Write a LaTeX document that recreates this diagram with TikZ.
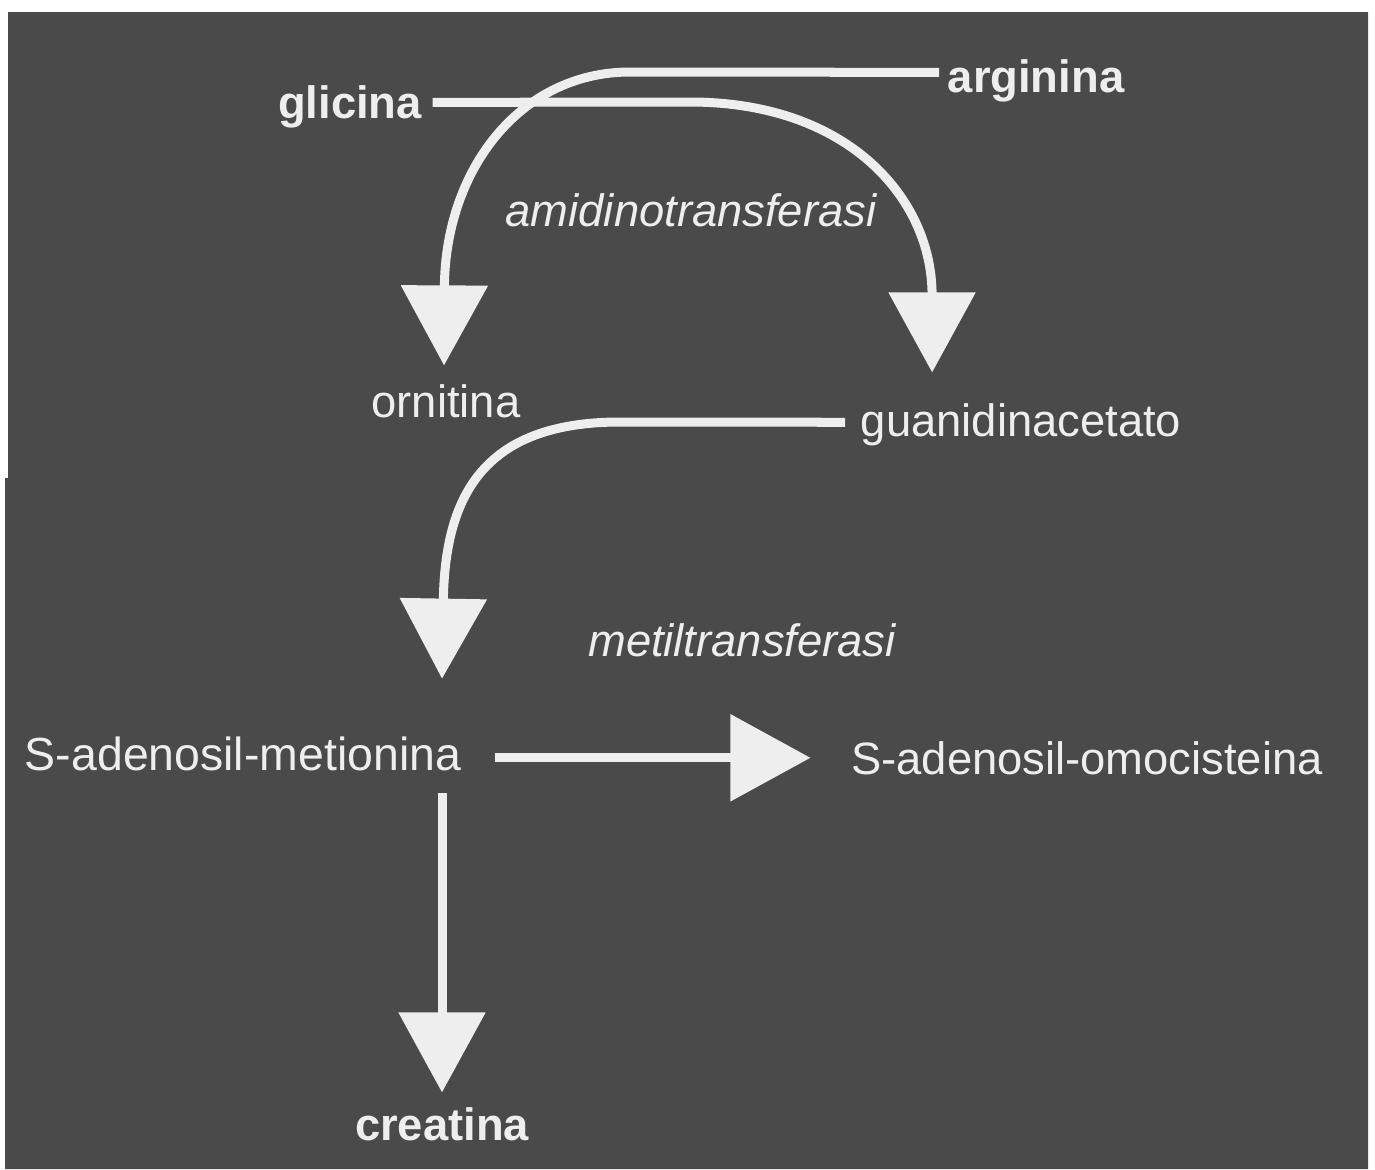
\documentclass[tikz,border=0pt]{standalone}
\usepackage{fontspec}
\setmainfont{Liberation Sans}
\usetikzlibrary{arrows.meta,calc}
\definecolor{panelgray}{RGB}{74,74,74}
\definecolor{inkwhite}{RGB}{238,238,238}
\tikzset{>={Triangle[width=0.85cm,length=0.8cm]}}
\tikzset{
  flow/.style={draw=inkwhite,line width=0.09cm,->},
  chem/.style={text=inkwhite,inner sep=0pt,anchor=base,font=\fontsize{12.9}{15}\selectfont},
  chembold/.style={chem,font=\fontsize{12.9}{15}\selectfont\bfseries},
  enzyme/.style={chem,font=\fontsize{12.9}{15}\selectfont\itshape}
}

\begin{document}
\begin{tikzpicture}[x=0.01cm,y=-0.01cm]
    \useasboundingbox (0,0) rectangle (1375,1169);
    \fill[white] (0,0) rectangle (1375,1169);
    \fill[panelgray] (8,12) -- (1368,12) -- (1368,1169) -- (5,1169)
      -- (5,478) -- (8,478) -- cycle;

    \node[chembold] (glicina) at (350,118) {glicina};
    \node[chembold] (arginina) at (1036,92) {arginina};
    \node[enzyme] (amidino) at (691,226) {amidinotransferasi};
    \node[chem] (ornitina) at (446,417) {ornitina};
    \node[chem] (guanidin) at (1021,436) {guanidinacetato};
    \node[enzyme] (metil) at (742,656) {metiltransferasi};
    \node[chem,font=\fontsize{13.2}{15}\selectfont] (sam) at (243,770) {S-adenosil-metionina};
    \node[chem] (sah) at (1087,774) {S-adenosil-omocisteina};
    \node[chembold] (creatina) at (442,1140) {creatina};

    \draw[flow] ([shift={(10,-4)}]glicina.east) -- (690,102)
      .. controls (850,102) and (932,200) .. ([shift={(72,-30)}]guanidin.north west);
    \draw[flow] ([shift={(-8,-8)}]arginina.west) -- (630,72)
      .. controls (520,72) and (445,170) .. ([shift={(-2,-18)}]ornitina.north);
    \draw[flow] ([shift={(-15,-2)}]guanidin.west) -- (620,422)
      .. controls (480,422) and (445,500) .. ($(sam.north -| creatina.north)+(0,-57)$);
    \draw[flow,shorten <=0.33cm,shorten >=0.4cm] (sam.east |- sah.west) -- (sah.west);
    \draw[flow,shorten <=0.22cm,shorten >=0.14cm] (creatina.north |- sam.south) -- (creatina.north);
  \end{tikzpicture}
\end{document}
